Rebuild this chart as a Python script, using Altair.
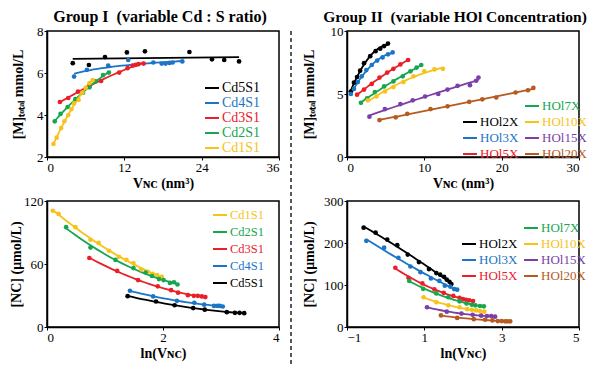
import altair as alt
import pandas as pd

FONT = "Liberation Serif"
BLACK, BLUE, RED, GREEN, YELLOW, PURPLE, BROWN = (
    "#000000", "#1A75C6", "#E8202A", "#15A64F", "#F7C21A", "#7B3FA6", "#B65A1E")

# ---------------- Group I, top: [M]total vs V_NC ----------------
cd5_vx = [4.0, 6.5, 9.0, 12.4, 15.2, 22.1, 25.6, 27.5, 29.8]
cd5_m = [6.47, 6.38, 6.76, 6.98, 7.03, 7.00, 6.65, 6.62, 6.55]
cd4_vx = [4.2, 6.2, 9.5, 12.6, 16.5, 17.8, 18.4, 19.0, 19.5, 21.0]
cd4_m = [5.83, 6.15, 6.35, 6.62, 6.50, 6.45, 6.45, 6.48, 6.50, 6.55]
cd3_vx = [2.0, 3.3, 4.8, 6.6, 8.4, 11.2, 12.5, 13.3, 13.8, 14.2, 15.0]
cd3_m = [4.62, 4.81, 5.11, 5.40, 5.62, 6.02, 6.23, 6.35, 6.39, 6.42, 6.45]
cd2_vx = [1.2, 2.1, 3.2, 4.4, 5.6, 6.6, 7.5, 8.7, 9.6]
cd2_m = [3.70, 4.05, 4.38, 4.76, 5.06, 5.32, 5.60, 5.90, 6.02]
cd1_vx = [1.0, 1.5, 2.2, 2.7, 3.3, 3.8, 4.2, 4.9, 5.5, 6.0, 6.6, 7.1]
cd1_m = [2.62, 2.92, 3.38, 3.70, 4.00, 4.28, 4.55, 4.72, 5.07, 5.30, 5.52, 5.66]

# ---------------- Group II, top ----------------
h2_vx = [0.5, 0.9, 1.3, 1.7, 2.2, 3.0, 3.7, 4.3, 4.8, 5.3]
h2_m = [5.2, 5.9, 6.35, 6.85, 7.45, 8.0, 8.4, 8.6, 8.8, 9.0]
h3_vx = [0.5, 0.9, 1.4, 1.9, 2.5, 3.2, 3.9, 4.6, 5.3, 5.9]
h3_m = [5.0, 5.4, 5.95, 6.4, 6.9, 7.3, 7.65, 7.9, 8.15, 8.3]
h5_vx = [1.3, 2.2, 3.2, 4.2, 5.2, 6.0, 6.9, 7.9]
h5_m = [4.95, 5.35, 5.8, 6.3, 6.7, 7.0, 7.35, 7.7]
h7_vx = [1.8, 2.6, 3.6, 4.8, 6.0, 7.2, 8.2, 9.0, 9.6]
h7_m = [4.3, 4.65, 5.15, 5.6, 6.0, 6.4, 6.8, 7.1, 7.3]
h10_vx = [2.7, 3.8, 4.9, 6.0, 7.3, 8.6, 10.0, 11.3, 12.4]
h10_m = [4.5, 4.8, 5.2, 5.55, 5.95, 6.4, 6.8, 6.95, 7.0]
h15_vx = [2.9, 4.9, 6.9, 8.5, 10.1, 11.8, 13.0, 14.3, 15.9, 16.7, 17.0]
h15_m = [3.2, 3.8, 4.2, 4.5, 4.8, 5.0, 5.35, 5.65, 5.7, 6.05, 6.3]
h20_vx = [4.2, 6.3, 7.8, 10.8, 13.0, 15.8, 17.5, 19.3, 21.8, 23.4, 24.1]
h20_m = [2.93, 3.15, 3.43, 3.8, 4.02, 4.38, 4.58, 4.72, 5.12, 5.3, 5.48]

# ---------------- Group I, bottom: [NC] vs ln(V_NC) ----------------
cd1_ln = [0.10, 0.20, 0.49, 0.75, 0.89, 1.07, 1.24, 1.37, 1.49, 1.62, 1.74, 1.82, 1.90, 1.98]
cd1_nc = [110.7, 107.7, 95.1, 83.1, 80.1, 72.6, 66.9, 63.9, 60.9, 54.9, 52.5, 50.7, 49.5, 47.7]
cd2_ln = [0.33, 0.75, 1.18, 1.49, 1.70, 1.81, 1.93, 2.01, 2.12, 2.19, 2.25]
cd2_nc = [95.1, 75.6, 63.9, 56.1, 51.9, 48.6, 45.6, 44.7, 42.0, 42.6, 40.5]
cd3_ln = [0.73, 1.21, 1.57, 1.91, 2.14, 2.26, 2.43, 2.53, 2.60, 2.67, 2.73]
cd3_nc = [65.7, 53.4, 44.7, 38.7, 35.1, 32.7, 30.3, 29.7, 29.7, 29.1, 28.5]
cd4_ln = [1.43, 1.83, 2.24, 2.54, 2.71, 2.88, 2.94, 2.98, 3.03]
cd4_nc = [34.5, 29.1, 24.9, 23.1, 21.3, 20.1, 20.1, 20.1, 19.5]
cd5_ln = [1.39, 1.88, 2.20, 2.52, 2.72, 3.10, 3.24, 3.32, 3.40]
cd5_nc = [29.4, 24.3, 20.7, 18.0, 16.5, 14.1, 13.5, 13.5, 13.2]

# ---------------- Group II, bottom ----------------
h2_ln = [-0.57, -0.26, 0.04, 0.30, 0.57, 0.86, 1.12, 1.31, 1.41, 1.51, 1.58, 1.65, 1.70]
h2_nc = [236.6, 224.6, 208.2, 194.8, 172.4, 154.5, 138.0, 128.4, 124.6, 119.4, 112.7, 107.5, 102.2]
h3_ln = [-0.50, -0.04, 0.33, 0.64, 0.90, 1.17, 1.39, 1.53, 1.67, 1.77, 1.85]
h3_nc = [205.2, 188.8, 164.9, 144.0, 130.6, 115.7, 109.7, 98.5, 96.3, 90.3, 88.8]
h5_ln = [0.25, 0.59, 0.95, 1.26, 1.50, 1.75, 1.91, 2.00, 2.08, 2.16, 2.26]
h5_nc = [141.0, 117.2, 103.7, 89.6, 81.3, 73.9, 69.4, 66.5, 64.9, 63.4, 61.9]
h7_ln = [0.61, 0.97, 1.31, 1.62, 1.91, 2.09, 2.23, 2.32, 2.44, 2.54]
h7_nc = [109.7, 91.0, 79.9, 70.9, 61.2, 56.0, 53.0, 51.5, 50.0, 49.3]
h10_ln = [0.98, 1.31, 1.62, 1.91, 2.11, 2.23, 2.34, 2.44, 2.55]
h10_nc = [70.9, 59.0, 51.5, 47.0, 42.5, 41.0, 39.5, 38.0, 36.6]
h15_ln = [1.07, 1.58, 1.96, 2.25, 2.47, 2.62, 2.73, 2.83]
h15_nc = [47.0, 36.6, 32.0, 29.1, 26.9, 26.0, 26.0, 24.6]
h20_ln = [1.43, 1.85, 2.28, 2.57, 2.76, 2.90, 3.00, 3.09, 3.15, 3.22]
h20_nc = [27.6, 21.6, 18.7, 17.2, 15.7, 14.2, 14.2, 13.4, 13.4, 13.4]

W, H = 232, 126


def label_color_expr(domain, colors):
    expr = "'black'"
    for name, col in zip(domain, colors):
        if col != BLACK and name:
            expr = f"datum.label == '{name}' ? '{col}' : " + expr
    return expr


def make_panel(series, domain, colors, fits, xdom, xticks, ydom, yticks,
               xtitle, ytitle, ypad, leg_kw, title=None):
    rows = []
    for name, (xs, ys) in series.items():
        for xv, yv in zip(xs, ys):
            rows.append({"s": name, "x": xv, "y": yv})
    df = pd.DataFrame(rows)
    base = alt.Chart(df)
    legend = alt.Legend(
        title=None, orient="none", symbolType="stroke", symbolSize=196,
        symbolStrokeWidth=2, labelFont=FONT, labelOffset=2,
        labelColor={"expr": label_color_expr(domain, colors)}, **leg_kw)
    xenc = alt.X("x:Q", scale=alt.Scale(domain=xdom, nice=False, zero=False),
                 axis=alt.Axis(values=xticks, title=xtitle))
    yenc = alt.Y("y:Q", scale=alt.Scale(domain=ydom, nice=False, zero=False),
                 axis=alt.Axis(values=yticks, title=ytitle, titlePadding=ypad))
    cenc = alt.Color("s:N", scale=alt.Scale(domain=domain, range=colors), legend=legend)
    layers = []
    for method, names in fits:
        kw = {"order": 2} if method == "poly" else {}
        layers.append(
            base.transform_filter(alt.FieldOneOfPredicate(field="s", oneOf=names))
            .transform_regression("x", "y", groupby=["s"], method=method, **kw)
            .mark_line(strokeWidth=1.8)
            .encode(x=xenc, y=yenc, color=cenc)
        )
    pts = base.mark_circle(size=22, opacity=1).encode(x=xenc, y=yenc, color=cenc)
    ch = alt.layer(*layers, pts).properties(width=W, height=H)
    if title is not None:
        ch = ch.properties(title=title)
    return ch


VNC = "V\u0274\u1d04 (nm\u00b3)"
LNV = "ln(V\u0274\u1d04)"
MT = "[M]\u209c\u2092\u209c\u2090\u2097 mmol/L"
NC = "[NC] (\u03bcmol/L)"

# Panel 1
g1_names = ["Cd5S1", "Cd4S1", "Cd3S1", "Cd2S1", "Cd1S1"]
g1_cols = [BLACK, BLUE, RED, GREEN, YELLOW]
p1 = make_panel(
    {"Cd5S1": (cd5_vx, cd5_m), "Cd4S1": (cd4_vx, cd4_m), "Cd3S1": (cd3_vx, cd3_m),
     "Cd2S1": (cd2_vx, cd2_m), "Cd1S1": (cd1_vx, cd1_m)},
    g1_names, g1_cols,
    [("linear", ["Cd5S1"]), ("log", ["Cd4S1"]), ("poly", ["Cd3S1", "Cd2S1", "Cd1S1"])],
    [0, 36], [0, 12, 24, 36], [2, 8], [2, 4, 6, 8], VNC, MT, 11.5,
    dict(legendX=157, legendY=49, labelFontSize=14, rowPadding=0),
    title=alt.TitleParams("Group I\u00a0\u00a0(variable Cd : S ratio)", font=FONT,
                          fontSize=16, fontWeight="bold", anchor="middle", frame="group",
                          dx=-3, offset=0, color="black"))

# Panel 3
g3_names = ["Cd1S1", "Cd2S1", "Cd3S1", "Cd4S1", "Cd5S1"]
g3_cols = [YELLOW, GREEN, RED, BLUE, BLACK]
p3 = make_panel(
    {"Cd1S1": (cd1_ln, cd1_nc), "Cd2S1": (cd2_ln, cd2_nc), "Cd3S1": (cd3_ln, cd3_nc),
     "Cd4S1": (cd4_ln, cd4_nc), "Cd5S1": (cd5_ln, cd5_nc)},
    g3_names, g3_cols,
    [("poly", g3_names)],
    [0, 4], [0, 2, 4], [0, 120], [0, 60, 120], LNV, NC, 0.5,
    dict(legendX=165, legendY=6, labelFontSize=12.5, rowPadding=2))

# Panel 2 (legend fills column by column: blank cell first)
g2_names = ["", "HOl2X", "HOl3X", "HOl5X", "HOl7X", "HOl10X", "HOl15X", "HOl20X"]
g2_cols = ["transparent", BLACK, BLUE, RED, GREEN, YELLOW, PURPLE, BROWN]
p2 = make_panel(
    {"HOl2X": (h2_vx, h2_m), "HOl3X": (h3_vx, h3_m), "HOl5X": (h5_vx, h5_m),
     "HOl7X": (h7_vx, h7_m), "HOl10X": (h10_vx, h10_m), "HOl15X": (h15_vx, h15_m),
     "HOl20X": (h20_vx, h20_m)},
    g2_names, g2_cols,
    [("poly", g2_names[1:])],
    [0, 30], [0, 10, 20, 30], [0, 10], [0, 5, 10], VNC, MT, 13.5,
    dict(legendX=115, legendY=67, labelFontSize=13, rowPadding=1, columns=2,
         columnPadding=2),
    title=alt.TitleParams("Group II\u00a0\u00a0(variable HOl Concentration)", font=FONT,
                          fontSize=15.5, fontWeight="bold", anchor="middle", frame="group",
                          dx=-8, offset=0, color="black"))

# Panel 4
p4 = make_panel(
    {"HOl2X": (h2_ln, h2_nc), "HOl3X": (h3_ln, h3_nc), "HOl5X": (h5_ln, h5_nc),
     "HOl7X": (h7_ln, h7_nc), "HOl10X": (h10_ln, h10_nc), "HOl15X": (h15_ln, h15_nc),
     "HOl20X": (h20_ln, h20_nc)},
    g2_names, g2_cols,
    [("poly", g2_names[1:])],
    [-1, 5], [-1, 1, 3, 5], [0, 300], [0, 100, 200, 300], LNV, NC, 7,
    dict(legendX=114, legendY=19, labelFontSize=13, rowPadding=1, columns=2,
         columnPadding=2))

colA = alt.vconcat(p1, p3, spacing=3).resolve_scale(x="independent", y="independent", color="independent")
colB = alt.vconcat(p2, p4, spacing=3).resolve_scale(x="independent", y="independent", color="independent")

DIV_H = 352
divider = alt.Chart(pd.DataFrame({"d": [0]})).mark_rule(
    strokeDash=[4, 3], strokeWidth=1.5, color="#222222"
).encode(x=alt.value(0), y=alt.value(0), y2=alt.value(DIV_H)).properties(
    width=1, height=DIV_H, view=alt.ViewBackground(stroke="transparent"))

chart = alt.hconcat(colA, divider, colB, spacing=8).resolve_scale(
    color="independent", x="independent", y="independent"
).resolve_legend(color="independent").properties(padding=0).configure_axis(
    labelFont=FONT, labelFontSize=13, labelColor="black",
    titleFont=FONT, titleFontSize=14, titleFontWeight="bold", titleColor="black",
    domainColor="black", domainWidth=1.5, tickColor="black", tickSize=3,
    grid=False, labelPadding=1, titlePadding=2
).configure_view(stroke="black", strokeWidth=1.5)

chart.save("out.html", embed_options={"renderer": "svg", "actions": False})
